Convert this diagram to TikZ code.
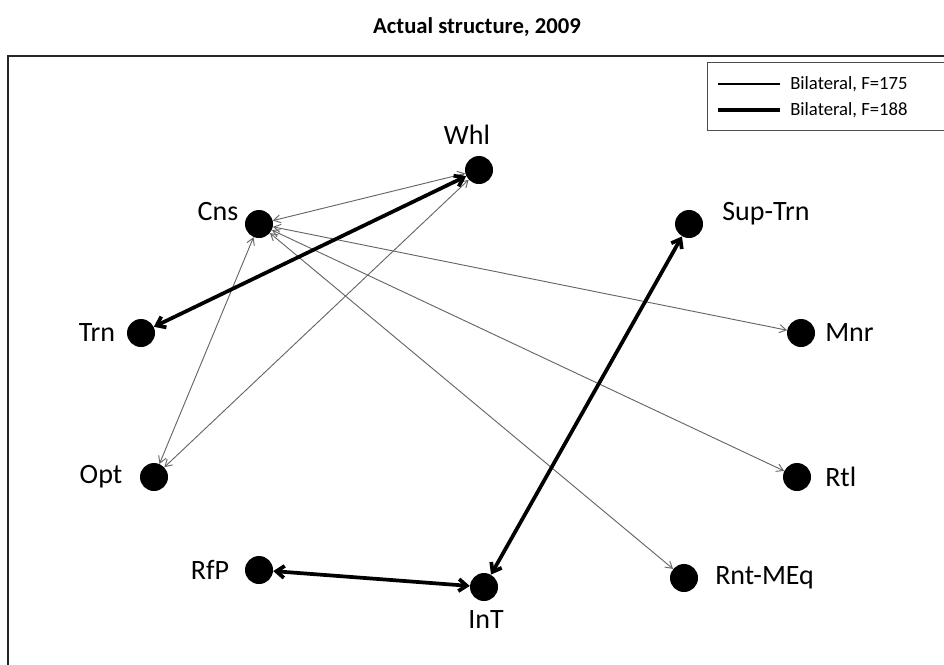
\documentclass[tikz,border=0pt]{standalone}
\usepackage{fontspec}
\setmainfont{Carlito}
\usetikzlibrary{arrows.meta}
\begin{document}
\begin{tikzpicture}[x=0.75pt,y=-0.75pt,
  dot/.style={circle,fill=black,draw=none,minimum size=21pt,inner sep=0pt},
  lbl/.style={font=\fontsize{21}{25}\selectfont},
  thinedge/.style={draw=black!60,line width=0.7pt,{Straight Barb[length=5pt,width=6pt]}-{Straight Barb[length=5pt,width=6pt]}},
  thickedge/.style={draw=black,line width=2.8pt,{Straight Barb[length=6pt,width=9pt]}-{Straight Barb[length=6pt,width=9pt]}}]
\useasboundingbox (0,0) rectangle (944,664);
\clip (0,0) rectangle (944,664);
\node[font=\bfseries\fontsize{17}{20}\selectfont] (title) at (477,27) {Actual structure, 2009};
\draw[line width=1pt,black!85] (8,680) -- (8,56) -- (960,56);
% legend
\draw[black!70,line width=0.6pt] (707,130) -- (707,62) -- (960,62);
\draw[black!70,line width=0.6pt] (707,130) -- (960,130);
\coordinate (l1a) at (718,84); \coordinate (l1b) at (780,84);
\coordinate (l2a) at (718,110); \coordinate (l2b) at (780,110);
\draw[line width=0.9pt] (l1a) -- (l1b);
\draw[line width=3pt] (l2a) -- (l2b);
\node[anchor=west,font=\fontsize{14}{17}\selectfont,inner sep=0pt] (lt1) at (790,84) {Bilateral, F=175};
\node[anchor=west,font=\fontsize{14}{17}\selectfont,inner sep=0pt] (lt2) at (790,110) {Bilateral, F=188};
% nodes
\node[dot] (Whl) at (479,170) {};
\node[dot] (Cns) at (259,224) {};
\node[dot] (Sup) at (689,224) {};
\node[dot] (Trn) at (141,333) {};
\node[dot] (Mnr) at (801,333) {};
\node[dot] (Opt) at (154,477) {};
\node[dot] (Rtl) at (797,477) {};
\node[dot] (RfP) at (259,570) {};
\node[dot] (InT) at (484,587) {};
\node[dot] (Rnt) at (684,578) {};
% labels
\node[lbl] (tWhl) at (467,135) {Whl};
\node[lbl] (tCns) at (218,212) {Cns};
\node[lbl,anchor=west,inner sep=0pt] (tSup) at (722,214) {Sup-Trn};
\node[lbl] (tTrn) at (97,333) {Trn};
\node[lbl,anchor=west,inner sep=0pt] (tMnr) at (825,333) {Mnr};
\node[lbl] (tOpt) at (101,477) {Opt};
\node[lbl,anchor=west,inner sep=0pt] (tRtl) at (825,477) {Rtl};
\node[lbl] (tRfP) at (210,570) {RfP};
\node[lbl] (tInT) at (486,620) {InT};
\node[lbl,anchor=west,inner sep=0pt] (tRnt) at (715,578) {Rnt-MEq};
% thin edges
\draw[thinedge] (Cns) -- (Whl);
\draw[thinedge] (Cns) -- (Opt);
\draw[thinedge] (Opt) -- (Whl);
\draw[thinedge] (Cns) -- (Mnr);
\draw[thinedge] (Cns) -- (Rtl);
\draw[thinedge] (Cns) -- (Rnt);
% thick edges
\draw[thickedge] (Trn) -- (Whl);
\draw[thickedge] (Sup) -- (InT);
\draw[thickedge] (RfP) -- (InT);
\end{tikzpicture}
\end{document}
